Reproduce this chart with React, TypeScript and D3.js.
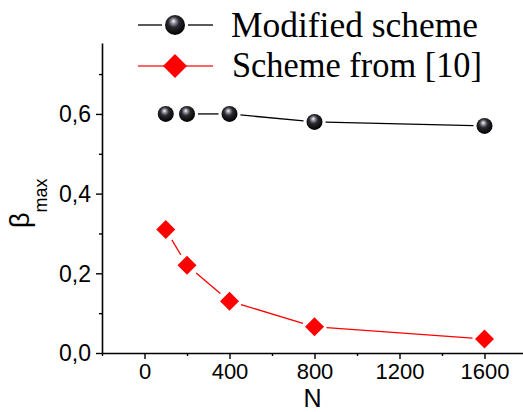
import React, { useEffect, useRef } from 'react'
import * as d3 from 'd3'

const nValues = [100, 200, 400, 800, 1600]
const modifiedScheme = [0.6, 0.6, 0.6, 0.58, 0.57]
const schemeFrom10 = [0.31, 0.22, 0.13, 0.066, 0.035]
const xTicks = [0, 400, 800, 1200, 1600]
const xMinorTicks = [-200, 200, 600, 1000, 1400]
const yTicks = [0, 0.2, 0.4, 0.6]
const yMinorTicks = [0.1, 0.3, 0.5, 0.7]
const legendLabels = ['Modified scheme', 'Scheme from [10]']

const svgWidth = 523
const svgHeight = 412
const plot = { left: 102, right: 527, top: 43, bottom: 353 }

const x = d3.scaleLinear().domain([-200, 1800]).range([plot.left, plot.right])
const y = d3.scaleLinear().domain([0, 0.778]).range([plot.bottom, plot.top])

const commaFmt = (d: number) => d3.format('.1f')(d).replace('.', ',')

// segments between markers, trimmed so a gap is left around each marker
const gappedSegments = (pts: [number, number][], gap: number) => {
  const segs: [number, number, number, number][] = []
  for (let i = 0; i < pts.length - 1; i++) {
    const [x1, y1] = pts[i]
    const [x2, y2] = pts[i + 1]
    const len = Math.hypot(x2 - x1, y2 - y1)
    if (len <= gap * 2) continue
    const ux = (x2 - x1) / len
    const uy = (y2 - y1) / len
    segs.push([x1 + ux * gap, y1 + uy * gap, x2 - ux * gap, y2 - uy * gap])
  }
  return segs
}

const Ball = ({ cx, cy, r }: { cx: number; cy: number; r: number }) => (
  <circle cx={cx} cy={cy} r={r} fill="url(#ball)" />
)

const Diamond = ({ cx, cy, r }: { cx: number; cy: number; r: number }) => (
  <path d={`M${cx},${cy - r}L${cx + r},${cy}L${cx},${cy + r}L${cx - r},${cy}Z`} fill="#ff0000" />
)

export default function App() {
  const axesRef = useRef<SVGGElement>(null)

  useEffect(() => {
    const g = d3.select(axesRef.current)
    g.selectAll('*').remove()

    const xMinor = g.append('g').attr('transform', `translate(0,${plot.bottom})`)
    xMinor.call(d3.axisBottom(x).tickValues(xMinorTicks).tickSize(3).tickSizeOuter(0).tickFormat(() => ''))
    xMinor.select('.domain').remove()

    const xMajor = g.append('g').attr('transform', `translate(0,${plot.bottom})`)
    xMajor.call(d3.axisBottom(x).tickValues(xTicks).tickSize(6).tickSizeOuter(0).tickFormat(d3.format('d')))
    xMajor
      .selectAll('text')
      .attr('y', 26)
      .attr('dy', 0)
      .attr('font-size', 22)
      .attr('font-family', 'Liberation Sans, Arial, sans-serif')
      .attr('fill', '#000')

    const yMinor = g.append('g').attr('transform', `translate(${plot.left},0)`)
    yMinor.call(d3.axisLeft(y).tickValues(yMinorTicks).tickSize(3).tickSizeOuter(0).tickFormat(() => ''))
    yMinor.select('.domain').remove()

    const yMajor = g.append('g').attr('transform', `translate(${plot.left},0)`)
    yMajor.call(d3.axisLeft(y).tickValues(yTicks).tickSize(6).tickSizeOuter(0).tickFormat(d => commaFmt(+d)))
    yMajor
      .selectAll('text')
      .attr('x', -11)
      .attr('dy', '0.34em')
      .attr('font-size', 23)
      .attr('font-family', 'Liberation Sans, Arial, sans-serif')
      .attr('fill', '#000')

    g.selectAll('.domain').attr('stroke-width', 1.6).attr('stroke', '#000')
    g.selectAll('.tick line').attr('stroke-width', 1.4).attr('stroke', '#000')
  }, [])

  const blackPts = nValues.map((n, i) => [x(n), y(modifiedScheme[i])] as [number, number])
  const redPts = nValues.map((n, i) => [x(n), y(schemeFrom10[i])] as [number, number])

  return (
    <svg width={svgWidth} height={svgHeight} style={{ position: 'absolute', left: 0, top: 0, background: '#fff' }}>
      <defs>
        <radialGradient id="ball" cx="0.45" cy="0.4" r="0.6" fx="0.42" fy="0.3">
          <stop offset="0" stopColor="#ffffff" />
          <stop offset="0.18" stopColor="#9a9aa6" />
          <stop offset="0.45" stopColor="#2a2a30" />
          <stop offset="1" stopColor="#000000" />
        </radialGradient>
      </defs>
      <rect width={svgWidth} height={svgHeight} fill="#fff" />
      <g ref={axesRef} />

      {gappedSegments(blackPts, 11).map((s, i) => (
        <line key={'b' + i} x1={s[0]} y1={s[1]} x2={s[2]} y2={s[3]} stroke="#000" strokeWidth={1.3} />
      ))}
      {gappedSegments(redPts, 12).map((s, i) => (
        <line key={'r' + i} x1={s[0]} y1={s[1]} x2={s[2]} y2={s[3]} stroke="#ff0000" strokeWidth={1.3} />
      ))}
      {blackPts.map((p, i) => (
        <Ball key={'bp' + i} cx={p[0]} cy={p[1]} r={8} />
      ))}
      {redPts.map((p, i) => (
        <Diamond key={'rp' + i} cx={p[0]} cy={p[1]} r={9.5} />
      ))}

      {/* legend */}
      <g>
        <line x1={138} y1={25} x2={162} y2={25} stroke="#000" strokeWidth={1.3} />
        <line x1={188} y1={25} x2={213} y2={25} stroke="#000" strokeWidth={1.3} />
        <Ball cx={175} cy={25} r={10} />
        <text
          x={231}
          y={37}
          fontSize={35}
          textLength={247}
          lengthAdjust="spacingAndGlyphs"
          fontFamily="Liberation Serif, Times New Roman, serif"
        >
          {legendLabels[0]}
        </text>
        <line x1={138} y1={66} x2={213} y2={66} stroke="#ff3030" strokeWidth={1.3} />
        <Diamond cx={175} cy={66} r={12} />
        <text
          x={232}
          y={77}
          fontSize={35}
          textLength={250}
          lengthAdjust="spacingAndGlyphs"
          fontFamily="Liberation Serif, Times New Roman, serif"
        >
          {legendLabels[1]}
        </text>
      </g>

      {/* axis titles */}
      <text
        x={(plot.left + 523) / 2}
        y={406.5}
        textAnchor="middle"
        fontSize={25}
        fontFamily="Liberation Sans, Arial, sans-serif"
      >
        N
      </text>
      <text transform="translate(29,228) rotate(-90)" fontFamily="Liberation Sans, Arial, sans-serif">
        <tspan fontSize={27}>β</tspan>
        <tspan fontSize={18} dy={18}>max</tspan>
      </text>
    </svg>
  )
}
